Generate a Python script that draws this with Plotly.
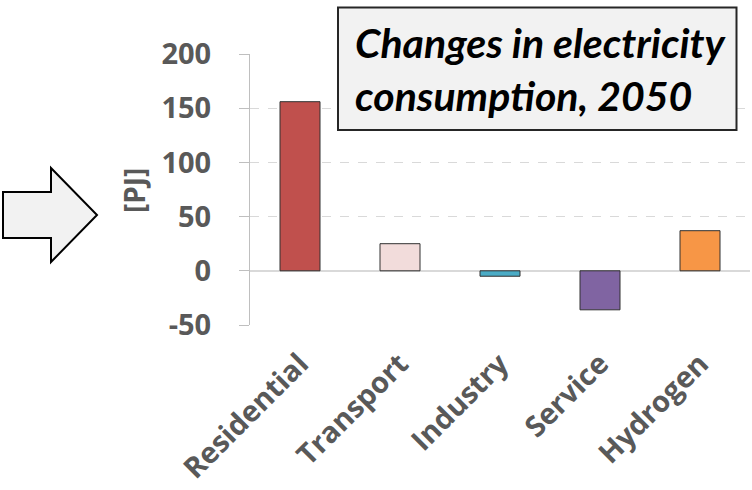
import plotly.graph_objects as go

categories = ["Residential", "Transport", "Industry", "Service", "Hydrogen"]
values = [156, 25, -5, -36, 37]
colors = ["#C0504D", "#F2DCDB", "#4BACC6", "#8064A2", "#F79646"]
y_ticks = [-50, 0, 50, 100, 150, 200]
y_ticktext = ["-50", "0", "50", "100", "150", "200"]
title_text = "Changes in electricity<br>consump\u200ction, 2050"
y_title = "[PJ]"

W, H = 752, 490
L, R, T, B = 250, 2, 54, 165
PW, PH = W - L - R, H - T - B

def px(x):
    return (x - L) / PW

def py(y):
    return (H - B - y) / PH

GRAY = "#595959"
FONT = "Open Sans"

fig = go.Figure()
fig.add_trace(go.Bar(
    x=categories, y=values,
    marker=dict(color=colors, line=dict(color="#303030", width=1)),
    width=0.4,
))

# arrow shape (decoration)
pts = [(3, 192), (51, 192), (51, 168), (97, 215), (51, 262), (51, 238), (3, 238)]
path = "M " + " L ".join(f"{px(a):.5f},{py(b):.5f}" for a, b in pts) + " Z"
fig.add_shape(type="path", path=path, xref="paper", yref="paper",
              fillcolor="#F2F2F2", line=dict(color="black", width=2), layer="above")

# title box
fig.add_shape(type="rect", xref="paper", yref="paper",
              x0=px(338), x1=px(736.5), y0=py(7.5), y1=py(130),
              fillcolor="#F2F2F2", line=dict(color="#262626", width=2), layer="above")
fig.add_annotation(text=f"<b><i>{title_text}</i></b>", xref="paper", yref="paper",
                   x=px(353), y=py(69), xanchor="left", yanchor="middle", align="left",
                   showarrow=False, font=dict(family="Lato", size=41, color="black"))

fig.add_annotation(text=f"<b>{y_title}</b>", xref="paper", yref="paper",
                   x=px(134), y=py(191), xanchor="center", yanchor="middle",
                   textangle=-90, showarrow=False,
                   font=dict(family=FONT, size=28, color=GRAY, weight="bold"))

fig.update_layout(
    width=W, height=H,
    margin=dict(l=L, r=R, t=T, b=B),
    plot_bgcolor="white", paper_bgcolor="white",
    showlegend=False,
    xaxis=dict(range=[-0.5, 4.5], tickangle=-45, showline=False, showgrid=False,
               ticks="", ticklabelstandoff=15,
               tickfont=dict(family=FONT, size=29, color=GRAY, weight="bold")),
    yaxis=dict(range=[-50, 200], tickvals=y_ticks, ticktext=y_ticktext,
               showline=True, linecolor="#BFBFBF",
               linewidth=1, ticks="outside", ticklen=10, tickcolor="#BFBFBF",
               showgrid=True, gridcolor="#D9D9D9", griddash="dash", gridwidth=1,
               zeroline=True, zerolinecolor="#D9D9D9", zerolinewidth=1.5,
               ticklabelstandoff=22,
               tickfont=dict(family=FONT, size=29, color=GRAY, weight="bold")),
)

fig.write_html("out.html")
